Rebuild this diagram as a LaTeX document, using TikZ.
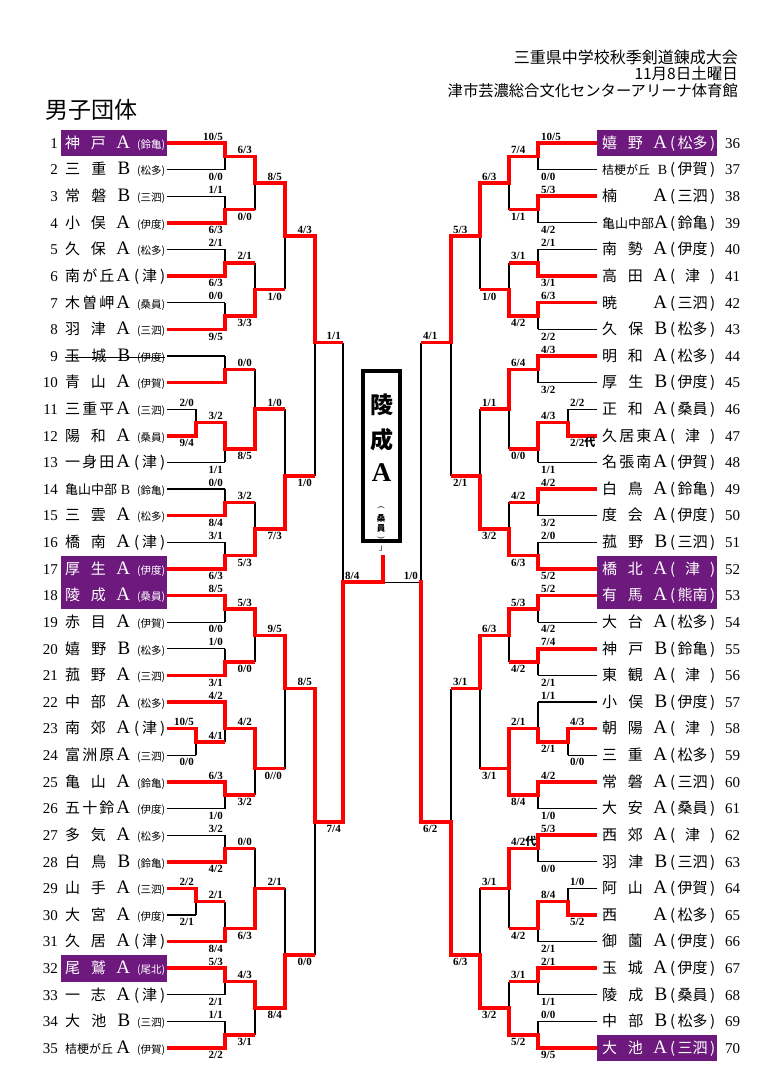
\documentclass[tikz,border=0pt]{standalone}
\usepackage{fontspec}
\setmainfont{Liberation Serif}
\newfontfamily\jp{Noto Sans CJK JP}
\pgfdeclarelayer{bg}
\pgfsetlayers{bg,main}
\definecolor{pur}{RGB}{110,25,125}
\newcounter{scn}
\newcommand\ry[1]{143+(#1-1)*26.62}
\tikzset{
 rd/.style={draw=red, line width=3.5pt},
 rdv/.style={rd, line cap=rect},
 bk/.style={draw=black, line width=1.2pt},
 num/.style={inner sep=0pt, font=\fontsize{15}{15}\selectfont},
 nm/.style={inner sep=0pt, font=\jp\fontsize{15}{15}\selectfont},
 sc/.style={inner sep=0pt, font=\bfseries\fontsize{11}{11}\selectfont},
}
\newcommand\LA[1]{{\rmfamily\fontsize{19}{19}\selectfont #1}}
\newcommand\LAs[1]{{\rmfamily\fontsize{14}{14}\selectfont #1}}
\newcommand\sk[2]{{\fontsize{#1}{#1}\selectfont #2}}
\newcommand\so[1]{{\fontsize{10.5}{11}\selectfont(#1)}}
\newcommand\sj{\hbox to 31pt{(\hfil 津\hfil)}}
\newcommand\ro[1]{\hbox to 45pt{(\hfil #1\hfil)}}
\newcommand\LT[4][black]{%
 \node[num,anchor=base east] (nL#2) at (58,{\ry{#2}+5.3}) {#2};
 \node[nm,anchor=base west,text=#1] (L#2) at (65,{\ry{#2}+5.3}) {\hbox to 100pt{\hbox to 65pt{#3}\hfil #4}};}
\newcommand\RT[4][black]{%
 \node[nm,anchor=base west,text=#1] (R#2) at (602,{\ry{#2}+5.3}) {\hbox to 113pt{\hbox to 65pt{#3}\hfil #4}};
 \node[num,anchor=base west] (nR#2) at (725,{\ry{#2}+5.3}) {\the\numexpr#2+35\relax};}
\newcommand\btl[3]{\begin{pgfonlayer}{bg}\draw[bk] (#1,{\ry{#3}}) -- (#2,{\ry{#3}});\end{pgfonlayer}}
\newcommand\rtl[3]{\draw[rd] (#1,{\ry{#3}}) -- (#2,{\ry{#3}});}
\newcommand\mat[6]{%
 \if#6t
  \begin{pgfonlayer}{bg}\draw[bk] (#1,{\ry{#5}}) -- (#1,{\ry{#4}});\end{pgfonlayer}
  \draw[rdv] (#1,{\ry{#3}}) -- (#1,{\ry{#5}});
 \else
  \begin{pgfonlayer}{bg}\draw[bk] (#1,{\ry{#3}}) -- (#1,{\ry{#5}});\end{pgfonlayer}
  \draw[rdv] (#1,{\ry{#5}}) -- (#1,{\ry{#4}});
 \fi
 \draw[rd] (#1,{\ry{#5}}) -- (#2,{\ry{#5}});}
\newcommand\sLa[3]{\stepcounter{scn}\node[sc,anchor=base east] (sc\arabic{scn}) at (#1,{\ry{#2}-2.8}) {#3};}
\newcommand\sLb[3]{\stepcounter{scn}\node[sc,anchor=base east] (sc\arabic{scn}) at (#1,{\ry{#2}+10.7}) {#3};}
\newcommand\sRa[3]{\stepcounter{scn}\node[sc,anchor=base west] (sc\arabic{scn}) at (#1,{\ry{#2}-2.8}) {#3};}
\newcommand\sRb[3]{\stepcounter{scn}\node[sc,anchor=base west] (sc\arabic{scn}) at (#1,{\ry{#2}+10.7}) {#3};}
\begin{document}
\begin{tikzpicture}[x=1pt,y=-1pt]
\begin{pgfonlayer}{bg}\fill[white] (0,0) rectangle (761,1075);\end{pgfonlayer}
\useasboundingbox (0,0) rectangle (761,1075);
% header
\node[anchor=east,inner sep=0,font=\jp\fontsize{16}{16}\selectfont] (h1) at (738,57) {三重県中学校秋季剣道錬成大会};
\node[anchor=east,inner sep=0,font=\jp\fontsize{15.5}{15.5}\selectfont] (h2) at (738,74) {11月8日土曜日};
\node[anchor=east,inner sep=0,font=\jp\fontsize{15.3}{15.3}\selectfont] (h3) at (738,91) {津市芸濃総合文化センターアリーナ体育館};
\node[anchor=west,inner sep=0,font=\jp\fontsize{23}{23}\selectfont] (title) at (45,110) {男子団体};
% purple boxes
\fill[pur] (61,{\ry{1}-13.3}) rectangle (167,{\ry{1}+13.3});
\fill[pur] (61,{\ry{17}-13.3}) rectangle (167,{\ry{18}+13.3});
\fill[pur] (61,{\ry{32}-13.3}) rectangle (167,{\ry{32}+13.3});
\fill[pur] (597,{\ry{1}-13.3}) rectangle (717,{\ry{1}+13.3});
\fill[pur] (597,{\ry{17}-13.3}) rectangle (717,{\ry{18}+13.3});
\fill[pur] (597,{\ry{35}-13.3}) rectangle (717,{\ry{35}+13.3});
% left teams
\LT[white]{1}{神\hfil 戸\hfil\LA{A}}{\so{鈴亀}}
\LT{2}{三\hfil 重\hfil\LA{B}}{\so{松多}}
\LT{3}{常\hfil 磐\hfil\LA{B}}{\so{三泗}}
\LT{4}{小\hfil 俣\hfil\LA{A}}{\so{伊度}}
\LT{5}{久\hfil 保\hfil\LA{A}}{\so{松多}}
\LT{6}{南\hfil が\hfil 丘\hfil\LA{A}}{\sj}
\LT{7}{木\hfil 曽\hfil 岬\hfil\LA{A}}{\so{桑員}}
\LT{8}{羽\hfil 津\hfil\LA{A}}{\so{三泗}}
\LT{9}{玉\hfil 城\hfil\LA{B}}{\so{伊度}}
\LT{10}{青\hfil 山\hfil\LA{A}}{\so{伊賀}}
\LT{11}{三\hfil 重\hfil 平\hfil\LA{A}}{\so{三泗}}
\LT{12}{陽\hfil 和\hfil\LA{A}}{\so{桑員}}
\LT{13}{一\hfil 身\hfil 田\hfil\LA{A}}{\sj}
\LT{14}{\sk{13}{亀山中部}\hfil\LAs{B}}{\so{鈴亀}}
\LT{15}{三\hfil 雲\hfil\LA{A}}{\so{松多}}
\LT{16}{橋\hfil 南\hfil\LA{A}}{\sj}
\LT[white]{17}{厚\hfil 生\hfil\LA{A}}{\so{伊度}}
\LT[white]{18}{陵\hfil 成\hfil\LA{A}}{\so{桑員}}
\LT{19}{赤\hfil 目\hfil\LA{A}}{\so{伊賀}}
\LT{20}{嬉\hfil 野\hfil\LA{B}}{\so{松多}}
\LT{21}{菰\hfil 野\hfil\LA{A}}{\so{三泗}}
\LT{22}{中\hfil 部\hfil\LA{A}}{\so{松多}}
\LT{23}{南\hfil 郊\hfil\LA{A}}{\sj}
\LT{24}{富\hfil 洲\hfil 原\hfil\LA{A}}{\so{三泗}}
\LT{25}{亀\hfil 山\hfil\LA{A}}{\so{鈴亀}}
\LT{26}{五\hfil 十\hfil 鈴\hfil\LA{A}}{\so{伊度}}
\LT{27}{多\hfil 気\hfil\LA{A}}{\so{松多}}
\LT{28}{白\hfil 鳥\hfil\LA{B}}{\so{鈴亀}}
\LT{29}{山\hfil 手\hfil\LA{A}}{\so{三泗}}
\LT{30}{大\hfil 宮\hfil\LA{A}}{\so{伊度}}
\LT{31}{久\hfil 居\hfil\LA{A}}{\sj}
\LT[white]{32}{尾\hfil 鷲\hfil\LA{A}}{\so{尾北}}
\LT{33}{一\hfil 志\hfil\LA{A}}{\sj}
\LT{34}{大\hfil 池\hfil\LA{B}}{\so{三泗}}
\LT{35}{\sk{12}{桔梗が丘}\hfil\LA{A}}{\so{伊賀}}
\draw[line width=0.8pt] (65,{\ry{9}+1}) -- (165,{\ry{9}+1});
% right teams
\RT[white]{1}{嬉\hfil 野\hfil\LA{A}}{\ro{松多}}
\RT{2}{\sk{12}{桔梗が丘}\hfil\LAs{B}}{\ro{伊賀}}
\RT{3}{楠\hfil\LA{A}}{\ro{三泗}}
\RT{4}{\sk{13}{亀山中部}\hfil\LA{A}}{\ro{鈴亀}}
\RT{5}{南\hfil 勢\hfil\LA{A}}{\ro{伊度}}
\RT{6}{高\hfil 田\hfil\LA{A}}{\ro{津}}
\RT{7}{暁\hfil\LA{A}}{\ro{三泗}}
\RT{8}{久\hfil 保\hfil\LA{B}}{\ro{松多}}
\RT{9}{明\hfil 和\hfil\LA{A}}{\ro{松多}}
\RT{10}{厚\hfil 生\hfil\LA{B}}{\ro{伊度}}
\RT{11}{正\hfil 和\hfil\LA{A}}{\ro{桑員}}
\RT{12}{久\hfil 居\hfil 東\hfil\LA{A}}{\ro{津}}
\RT{13}{名\hfil 張\hfil 南\hfil\LA{A}}{\ro{伊賀}}
\RT{14}{白\hfil 鳥\hfil\LA{A}}{\ro{鈴亀}}
\RT{15}{度\hfil 会\hfil\LA{A}}{\ro{伊度}}
\RT{16}{菰\hfil 野\hfil\LA{B}}{\ro{三泗}}
\RT[white]{17}{橋\hfil 北\hfil\LA{A}}{\ro{津}}
\RT[white]{18}{有\hfil 馬\hfil\LA{A}}{\ro{熊南}}
\RT{19}{大\hfil 台\hfil\LA{A}}{\ro{松多}}
\RT{20}{神\hfil 戸\hfil\LA{B}}{\ro{鈴亀}}
\RT{21}{東\hfil 観\hfil\LA{A}}{\ro{津}}
\RT{22}{小\hfil 俣\hfil\LA{B}}{\ro{伊度}}
\RT{23}{朝\hfil 陽\hfil\LA{A}}{\ro{津}}
\RT{24}{三\hfil 重\hfil\LA{A}}{\ro{松多}}
\RT{25}{常\hfil 磐\hfil\LA{A}}{\ro{三泗}}
\RT{26}{大\hfil 安\hfil\LA{A}}{\ro{桑員}}
\RT{27}{西\hfil 郊\hfil\LA{A}}{\ro{津}}
\RT{28}{羽\hfil 津\hfil\LA{B}}{\ro{三泗}}
\RT{29}{阿\hfil 山\hfil\LA{A}}{\ro{伊賀}}
\RT{30}{西\hfil\LA{A}}{\ro{松多}}
\RT{31}{御\hfil 薗\hfil\LA{A}}{\ro{伊度}}
\RT{32}{玉\hfil 城\hfil\LA{A}}{\ro{伊度}}
\RT{33}{陵\hfil 成\hfil\LA{B}}{\ro{桑員}}
\RT{34}{中\hfil 部\hfil\LA{B}}{\ro{松多}}
\RT[white]{35}{大\hfil 池\hfil\LA{A}}{\ro{三泗}}
% left team lines
\rtl{167}{225}{1}\btl{167}{225}{2}\btl{167}{225}{3}\rtl{167}{225}{4}
\btl{167}{225}{5}\rtl{167}{225}{6}\btl{167}{225}{7}\rtl{167}{225}{8}
\btl{167}{225}{9}\rtl{167}{225}{10}\btl{167}{196}{11}\rtl{167}{196}{12}
\btl{167}{225}{13}\btl{167}{225}{14}\rtl{167}{225}{15}\btl{167}{225}{16}
\rtl{167}{225}{17}\rtl{167}{225}{18}\btl{167}{225}{19}\btl{167}{225}{20}
\rtl{167}{225}{21}\rtl{167}{225}{22}\rtl{167}{196}{23}\btl{167}{196}{24}
\rtl{167}{225}{25}\btl{167}{225}{26}\btl{167}{225}{27}\rtl{167}{225}{28}
\rtl{167}{196}{29}\btl{167}{196}{30}\rtl{167}{225}{31}\rtl{167}{225}{32}
\btl{167}{225}{33}\btl{167}{225}{34}\rtl{167}{225}{35}
% left matches
\mat{196}{225}{11}{12}{11.5}{b}
\mat{196}{225}{23}{24}{23.5}{t}
\mat{196}{225}{29}{30}{29.5}{t}
\mat{225}{255}{1}{2}{1.5}{t}
\mat{225}{255}{3}{4}{3.5}{b}
\mat{225}{255}{5}{6}{5.5}{b}
\mat{225}{255}{7}{8}{7.5}{b}
\mat{225}{255}{9}{10}{9.5}{b}
\mat{225}{255}{11.5}{13}{12.5}{t}
\mat{225}{255}{14}{15}{14.5}{b}
\mat{225}{255}{16}{17}{16.5}{b}
\mat{225}{255}{18}{19}{18.5}{t}
\mat{225}{255}{20}{21}{20.5}{b}
\mat{225}{255}{22}{23.5}{23}{t}
\mat{225}{255}{25}{26}{25.5}{t}
\mat{225}{255}{27}{28}{27.5}{b}
\mat{225}{255}{29.5}{31}{30.5}{b}
\mat{225}{255}{32}{33}{32.5}{t}
\mat{225}{255}{34}{35}{34.5}{b}
\mat{255}{285}{1.5}{3.5}{2.5}{t}
\mat{255}{285}{5.5}{7.5}{6.5}{b}
\mat{255}{285}{9.5}{12.5}{11}{b}
\mat{255}{285}{14.5}{16.5}{15.5}{b}
\mat{255}{285}{18.5}{20.5}{19.5}{t}
\mat{255}{285}{23}{25.5}{24.5}{t}
\mat{255}{285}{27.5}{30.5}{29}{b}
\mat{255}{285}{32.5}{34.5}{33.5}{t}
\mat{285}{315}{2.5}{6.5}{4.5}{t}
\mat{285}{315}{11}{15.5}{13.5}{b}
\mat{285}{315}{19.5}{24.5}{21.5}{t}
\mat{285}{315}{29}{33.5}{31.5}{b}
\mat{315}{343}{4.5}{13.5}{8.5}{t}
\mat{315}{343}{21.5}{31.5}{26.5}{t}
\mat{343}{383}{8.5}{26.5}{17.5}{b}
% right team lines
\rtl{597}{538}{1}\btl{597}{538}{2}\rtl{597}{538}{3}\btl{597}{538}{4}
\btl{597}{538}{5}\rtl{597}{538}{6}\rtl{597}{538}{7}\btl{597}{538}{8}
\rtl{597}{538}{9}\btl{597}{538}{10}\btl{597}{568}{11}\rtl{597}{568}{12}
\btl{597}{538}{13}\rtl{597}{538}{14}\btl{597}{538}{15}\btl{597}{538}{16}
\rtl{597}{538}{17}\rtl{597}{538}{18}\btl{597}{538}{19}\rtl{597}{538}{20}
\btl{597}{538}{21}\btl{597}{538}{22}\rtl{597}{568}{23}\btl{597}{568}{24}
\rtl{597}{538}{25}\btl{597}{538}{26}\rtl{597}{538}{27}\btl{597}{538}{28}
\btl{597}{568}{29}\rtl{597}{568}{30}\btl{597}{538}{31}\rtl{597}{538}{32}
\btl{597}{538}{33}\btl{597}{538}{34}\rtl{597}{538}{35}
% right matches
\mat{568}{538}{11}{12}{11.5}{b}
\mat{568}{538}{23}{24}{23.5}{t}
\mat{568}{538}{29}{30}{29.5}{b}
\mat{538}{509}{1}{2}{1.5}{t}
\mat{538}{509}{3}{4}{3.5}{t}
\mat{538}{509}{5}{6}{5.5}{b}
\mat{538}{509}{7}{8}{7.5}{t}
\mat{538}{509}{9}{10}{9.5}{t}
\mat{538}{509}{11.5}{13}{12.5}{t}
\mat{538}{509}{14}{15}{14.5}{t}
\mat{538}{509}{16}{17}{16.5}{b}
\mat{538}{509}{18}{19}{18.5}{t}
\mat{538}{509}{20}{21}{20.5}{t}
\mat{538}{509}{22}{23.5}{23}{b}
\mat{538}{509}{25}{26}{25.5}{t}
\mat{538}{509}{27}{28}{27.5}{t}
\mat{538}{509}{29.5}{31}{30.5}{t}
\mat{538}{509}{32}{33}{32.5}{t}
\mat{538}{509}{34}{35}{34.5}{b}
\mat{509}{480}{1.5}{3.5}{2.5}{t}
\mat{509}{480}{5.5}{7.5}{6.5}{b}
\mat{509}{480}{9.5}{12.5}{11}{t}
\mat{509}{480}{14.5}{16.5}{15.5}{b}
\mat{509}{480}{18.5}{20.5}{19.5}{t}
\mat{509}{480}{23}{25.5}{24.5}{t}
\draw[rdv] (509,{\ry{24.5}}) -- (509,{\ry{25.5}});
\mat{509}{480}{27.5}{30.5}{29}{t}
\mat{509}{480}{32.5}{34.5}{33.5}{b}
\mat{480}{451}{2.5}{6.5}{4.5}{t}
\mat{480}{451}{11}{15.5}{13.5}{b}
\mat{480}{451}{19.5}{24.5}{21.5}{t}
\mat{480}{451}{29}{33.5}{31.5}{b}
\mat{451}{421}{4.5}{13.5}{8.5}{t}
\mat{451}{421}{21.5}{31.5}{26.5}{b}
\begin{pgfonlayer}{bg}
\draw[bk] (421,{\ry{8.5}}) -- (421,{\ry{17.5}});
\draw[bk] (421,{\ry{17.5}}) -- (383,{\ry{17.5}});
\end{pgfonlayer}
\draw[rdv] (421,{\ry{17.5}}) -- (421,{\ry{26.5}});
\draw[rdv] (383,{\ry{17.5}}) -- (383,557);
% champion box
\node[draw,line width=4pt,minimum width=37pt,minimum height=170pt,inner sep=0] (champ) at (381.5,456) {};
\node[inner sep=0,font=\jp\bfseries\fontsize{23}{23}\selectfont] (c1) at (381.5,405) {陵};
\node[inner sep=0,font=\jp\bfseries\fontsize{23}{23}\selectfont] (c2) at (381.5,440) {成};
\node[inner sep=0,font=\bfseries\fontsize{27}{27}\selectfont] (c3) at (381.5,473) {A};
\node[inner sep=0,rotate=-90,font=\fontsize{8}{8}\selectfont] (c4) at (381,508) {(};
\node[inner sep=0,font=\jp\bfseries\fontsize{8.5}{8.5}\selectfont] (c5) at (381,518) {桑};
\node[inner sep=0,font=\jp\bfseries\fontsize{8.5}{8.5}\selectfont] (c6) at (381,528) {員};
\node[inner sep=0,rotate=-90,font=\fontsize{8}{8}\selectfont] (c7) at (381,538) {)};
\node[inner sep=0,font=\jp\fontsize{8}{8}\selectfont] (c8) at (383,549) {」};
% left scores
\sLa{223}{1}{10/5}\sLa{252}{1.5}{6/3}\sLb{223}{2}{0/0}\sLa{282}{2.5}{8/5}
\sLa{223}{3}{1/1}\sLb{252}{3.5}{0/0}\sLb{223}{4}{6/3}\sLa{312}{4.5}{4/3}
\sLa{223}{5}{2/1}\sLa{252}{5.5}{2/1}\sLb{223}{6}{6/3}\sLa{223}{7}{0/0}
\sLb{282}{6.5}{1/0}\sLb{252}{7.5}{3/3}\sLb{223}{8}{9/5}\sLa{341}{8.5}{1/1}
\sLa{252}{9.5}{0/0}\sLa{282}{11}{1/0}\sLa{194}{11}{2/0}\sLa{223}{11.5}{3/2}
\sLb{194}{12}{9/4}\sLb{252}{12.5}{8/5}\sLb{223}{13}{1/1}\sLa{223}{14}{0/0}
\sLb{312}{13.5}{1/0}\sLa{252}{14.5}{3/2}\sLb{223}{15}{8/4}\sLb{282}{15.5}{7/3}
\sLa{223}{16}{3/1}\sLb{252}{16.5}{5/3}\sLb{223}{17}{6/3}\sLa{223}{18}{8/5}
\sLa{252}{18.5}{5/3}\sLa{282}{19.5}{9/5}\sLb{223}{19}{0/0}\sLa{223}{20}{1/0}
\sLb{252}{20.5}{0/0}\sLb{223}{21}{3/1}\sLa{312}{21.5}{8/5}\sLa{223}{22}{4/2}
\sLa{194}{23}{10/5}\sLa{252}{23}{4/2}\sLa{223}{23.5}{4/1}\sLb{194}{24}{0/0}
\sLb{282}{24.5}{0//0}\sLa{223}{25}{6/3}\sLb{252}{25.5}{3/2}\sLb{223}{26}{1/0}
\sLb{341}{26.5}{7/4}\sLa{223}{27}{3/2}\sLa{252}{27.5}{0/0}\sLb{223}{28}{4/2}
\sLa{194}{29}{2/2}\sLa{223}{29.5}{2/1}\sLa{282}{29}{2/1}\sLb{194}{30}{2/1}
\sLb{252}{30.5}{6/3}\sLb{223}{31}{8/4}\sLb{312}{31.5}{0/0}\sLa{223}{32}{5/3}
\sLa{252}{32.5}{4/3}\sLb{223}{33}{2/1}\sLb{282}{33.5}{8/4}\sLa{223}{34}{1/1}
\sLb{252}{34.5}{3/1}\sLb{223}{35}{2/2}
\sRa{345}{17.5}{8/4}
% right scores
\sRa{541}{1}{10/5}\sRa{511}{1.5}{7/4}\sRb{541}{2}{0/0}\sRa{482}{2.5}{6/3}
\sRa{541}{3}{5/3}\sRb{511}{3.5}{1/1}\sRb{541}{4}{4/2}\sRa{453}{4.5}{5/3}
\sRa{541}{5}{2/1}\sRa{511}{5.5}{3/1}\sRb{541}{6}{3/1}\sRa{541}{7}{6/3}
\sRb{482}{6.5}{1/0}\sRb{511}{7.5}{4/2}\sRb{541}{8}{2/2}\sRa{423}{8.5}{4/1}
\sRa{541}{9}{4/3}\sRa{511}{9.5}{6/4}\sRb{541}{10}{3/2}\sRa{570}{11}{2/2}
\sRa{482}{11}{1/1}\sRa{541}{11.5}{4/3}\sRb{570}{12}{2/2{\jp 代}}\sRb{511}{12.5}{0/0}
\sRb{541}{13}{1/1}\sRa{541}{14}{4/2}\sRb{453}{13.5}{2/1}\sRa{511}{14.5}{4/2}
\sRb{541}{15}{3/2}\sRb{482}{15.5}{3/2}\sRa{541}{16}{2/0}\sRb{511}{16.5}{6/3}
\sRb{541}{17}{5/2}\sRa{541}{18}{5/2}\sRa{511}{18.5}{5/3}\sRa{482}{19.5}{6/3}
\sRb{541}{19}{4/2}\sRa{541}{20}{7/4}\sRb{511}{20.5}{4/2}\sRa{453}{21.5}{3/1}
\sRb{541}{21}{2/1}\sRa{541}{22}{1/1}\sRa{511}{23}{2/1}\sRa{570}{23}{4/3}
\sRb{541}{23.5}{2/1}\sRb{570}{24}{0/0}\sRb{482}{24.5}{3/1}\sRa{541}{25}{4/2}
\sRb{511}{25.5}{8/4}\sRb{541}{26}{1/0}\sRb{423}{26.5}{6/2}\sRa{541}{27}{5/3}
\sRa{511}{27.5}{4/2{\jp 代}}\sRb{541}{28}{0/0}\sRa{482}{29}{3/1}\sRa{570}{29}{1/0}
\sRa{541}{29.5}{8/4}\sRb{570}{30}{5/2}\sRb{511}{30.5}{4/2}\sRb{541}{31}{2/1}
\sRb{453}{31.5}{6/3}\sRa{541}{32}{2/1}\sRa{511}{32.5}{3/1}\sRb{541}{33}{1/1}
\sRb{482}{33.5}{3/2}\sRa{541}{34}{0/0}\sRb{511}{34.5}{5/2}\sRb{541}{35}{9/5}
\sLa{418}{17.5}{1/0}
\end{tikzpicture}
\end{document}
